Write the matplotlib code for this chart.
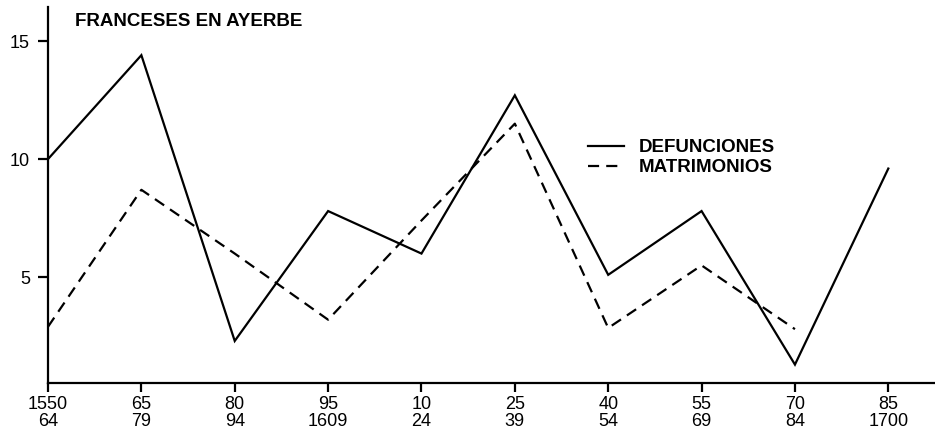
import matplotlib
matplotlib.use("Agg")
import matplotlib.pyplot as plt
import numpy as np

# ---- data ----
periods_top = ["1550", "65", "80", "95", "10", "25", "40", "55", "70", "85"]
periods_bottom = ["64", "79", "94", "1609", "24", "39", "54", "69", "84", "1700"]
defunciones = [10.0, 14.4, 2.3, 7.8, 6.0, 12.7, 5.1, 7.8, 1.3, 9.6]
matrimonios = [2.9, 8.7, 6.0, 3.2, 7.4, 11.5, 2.85, 5.5, 2.8, np.nan]
y_ticks = [5, 10, 15]
title = "FRANCESES EN AYERBE"
label_def = "DEFUNCIONES"
label_mat = "MATRIMONIOS"

plt.rcParams['font.family'] = ['Liberation Sans', 'DejaVu Sans']

W, H = 935, 434
fig = plt.figure(figsize=(W / 100, H / 100), dpi=100)
ax = fig.add_axes([48 / W, 1 - 383 / H, (W - 48) / W, (383 - 7) / H])

x = np.arange(len(periods_top))
ax.plot(x, defunciones, color="black", lw=1.6, solid_joinstyle="miter",
        label=label_def)
ax.plot(x, matrimonios, color="black", lw=1.6, dashes=(5, 3.2),
        label=label_mat)

ax.set_xlim(0, 9.5)
ax.set_ylim(0.52, 16.44)

ax.spines["top"].set_visible(False)
ax.spines["right"].set_visible(False)
for s in ("left", "bottom"):
    ax.spines[s].set_linewidth(1.6)

ax.set_xticks(x)
ax.set_xticklabels([f"{a}\n{b}" for a, b in zip(periods_top, periods_bottom)],
                   fontsize=13, linespacing=1.0)
ax.set_yticks(y_ticks)
ax.set_yticklabels([str(v) for v in y_ticks], fontsize=13)
ax.tick_params(axis="x", direction="out", length=6.5, width=1.6, pad=3)
ax.tick_params(axis="y", direction="out", length=7, width=1.6, pad=6)

fig.text(75 / W, 1 - 21 / H, title, fontsize=13.5, fontweight="bold",
         ha="left", va="center")

leg = ax.legend(loc="upper left", bbox_to_anchor=(588 / W, 1 - 139 / H),
                bbox_transform=fig.transFigure, frameon=False,
                prop={"weight": "bold", "size": 13.5},
                handlelength=1.9, handletextpad=0.8, labelspacing=0.15,
                borderpad=0, borderaxespad=0)

fig.savefig("out.png", dpi=100)
